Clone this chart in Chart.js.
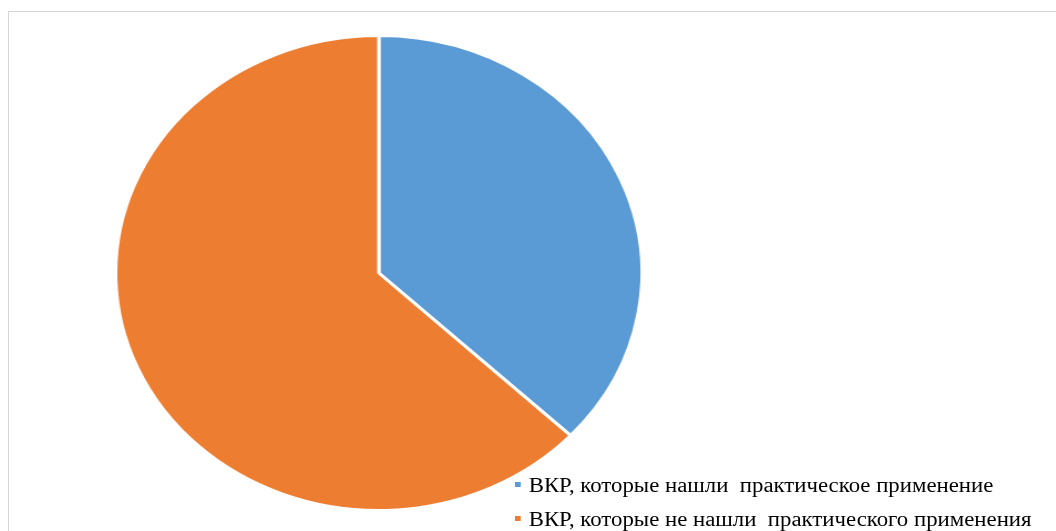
<!DOCTYPE html>
<html>
<head>
<meta charset="utf-8">
<script src="https://cdn.jsdelivr.net/npm/chart.js@4.4.0/dist/chart.umd.min.js"></script>
<style>
  html, body { margin: 0; padding: 0; background: #fff; }
  body { width: 1056px; height: 531px; position: relative; overflow: hidden; }
  .frame { position: absolute; left: 8px; top: 11px; width: 1100px; height: 600px;
           border-left: 1.5px solid #d6d6d6; border-top: 1.5px solid #d6d6d6; }
  .pie-box { position: absolute; left: 114px; top: 34px; width: 478px; height: 478px;
             transform-origin: 0 0; transform: scaleX(1.108); }
  .legend { position: absolute; left: 515px; top: 472px; transform-origin: 0 0; transform: scaleX(1.14);
            font-family: "Liberation Serif", "Times New Roman", serif; font-size: 20px; color: #000; }
  .legend div { height: 34px; line-height: 26px; white-space: pre; }
  .legend span.box { display: inline-block; width: 5px; height: 5px; margin-right: 7px; vertical-align: 5px; }
</style>
</head>
<body>
<div class="frame"></div>
<div class="pie-box"><canvas id="grafico"></canvas></div>
<div class="legend" id="legenda"></div>
<script>
const categorias = ['ВКР, которые нашли  практическое применение', 'ВКР, которые не нашли  практического применения'];
const valores = [37, 63];
const cores = ['#5B9BD5', '#ED7D31'];

const ctx = document.getElementById('grafico').getContext('2d');

new Chart(ctx, {
  type: 'pie',
  data: {
    labels: categorias,
    datasets: [{
      data: valores,
      backgroundColor: cores,
      borderColor: '#ffffff',
      borderWidth: 3
    }]
  },
  options: {
    responsive: true,
    maintainAspectRatio: false,
    animation: false,
    layout: { padding: 0 },
    plugins: {
      legend: { display: false },
      tooltip: { enabled: false }
    }
  }
});

// legenda em HTML
const legenda = document.getElementById('legenda');
categorias.forEach((nome, i) => {
  const linha = document.createElement('div');
  linha.innerHTML = `<span class="box" style="background:${cores[i]}"></span>${nome}`;
  legenda.appendChild(linha);
});
</script>
</body>
</html>
